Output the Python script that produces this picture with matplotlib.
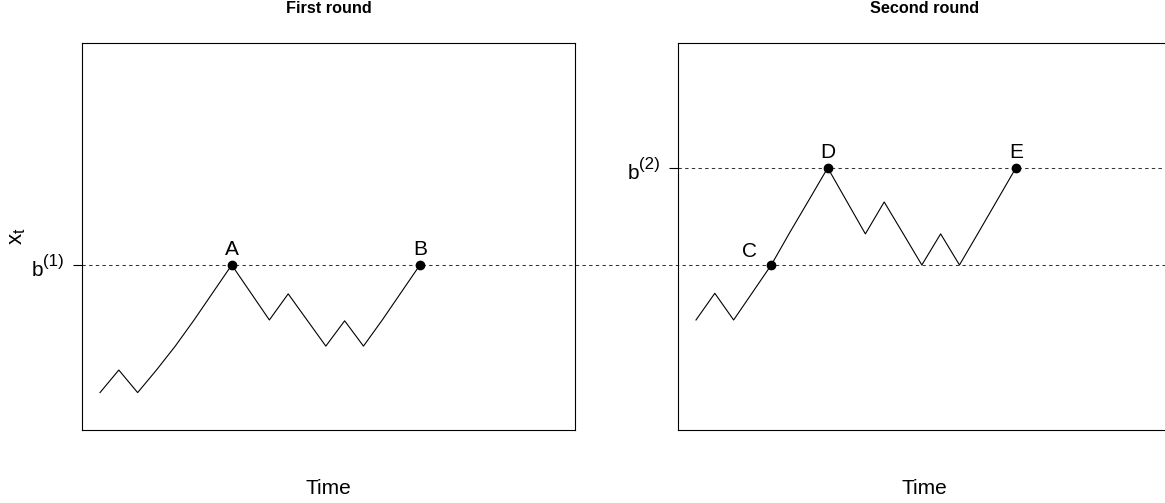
import matplotlib
matplotlib.use("Agg")
import matplotlib.pyplot as plt

plt.rcParams["font.family"] = ["Liberation Sans", "DejaVu Sans"]
plt.rcParams["mathtext.fontset"] = "custom"
plt.rcParams["mathtext.rm"] = "Liberation Sans"
plt.rcParams["mathtext.it"] = "Liberation Sans:italic"
plt.rcParams["mathtext.default"] = "regular"

# time steps shared by both rounds
t = list(range(18))

# first round path, barrier b(1)
x_first = [1.36, 2.18, 1.36, 2.18, 3.05, 4.0, 5.0, 6.0, 5.0, 4.0,
           4.95, 4.0, 3.05, 3.97, 3.05, 4.0, 5.0, 6.0]
b1 = 6.0

# second round path, barrier b(2)
x_second = [4.0, 4.97, 4.0, 5.0, 6.0, 7.2, 8.36, 9.53, 8.33, 7.13,
            8.29, 7.15, 6.0, 7.13, 6.0, 7.17, 8.35, 9.53]
b2 = 9.53

first_pts = {"A": 7, "B": 17}
second_pts = {"C": 4, "D": 7, "E": 17}

W, H = 1165, 503
px = 0.72  # points per pixel at dpi 100
fig = plt.figure(figsize=(W / 100, H / 100), dpi=100)

ax1 = fig.add_axes((82 / W, 73 / H, 493 / W, 387 / H))
ax2 = fig.add_axes((678 / W, 73 / H, 493 / W, 387 / H))

dash = (0, (3.2, 3.2))
lab_size = 15


def barrier_label(ax, y, idx):
    # b with a raised (i) like R plotmath, built from two texts
    sup = ax.annotate(f"({idx})", xy=(0, y), xycoords=("axes fraction", "data"),
                      xytext=(-18.5 * px, -1.5 * px), textcoords="offset points",
                      ha="right", va="baseline", fontsize=12.2)
    ax.annotate("b", xy=(0, 0), xycoords=sup, xytext=(0.3, -7 * px),
                textcoords="offset points", ha="right", va="baseline",
                fontsize=lab_size)


for ax in (ax1, ax2):
    ax.set_xlim(-0.956, 25.24)
    ax.set_ylim(0, 14.07)
    ax.set_xticks([])
    ax.patch.set_visible(False)
    for s in ax.spines.values():
        s.set_linewidth(0.8)
    ax.tick_params(axis="y", length=6.5, width=0.8, labelleft=False)
    ax.text(0.5, -64 / 387, "Time", transform=ax.transAxes, ha="center",
            va="baseline", fontsize=lab_size)

# first round
ax1.plot(t, x_first, color="black", lw=0.8)
ax1.axhline(b1, xmin=0, xmax=2.3, color="#333333", lw=0.75, ls=dash,
            clip_on=False, zorder=1)
ax1.set_yticks([b1])
barrier_label(ax1, b1, 1)
for name, i in first_pts.items():
    ax1.plot(t[i], x_first[i], "o", color="black", ms=6)
    ax1.annotate(name, (t[i], x_first[i]), xytext=(0, 7),
                 textcoords="offset points", ha="center", va="baseline",
                 fontsize=lab_size)
ax1.set_title("First round", fontsize=11.7, fontweight="bold", pad=21.4)

# second round
ax2.plot(t, x_second, color="black", lw=0.8)
ax2.axhline(b2, color="#333333", lw=0.75, ls=dash, zorder=1)
ax2.set_yticks([b2])
barrier_label(ax2, b2, 2)
for name, i in second_pts.items():
    ax2.plot(t[i], x_second[i], "o", color="black", ms=6)
    off = (-15.6, 5.5) if name == "C" else (0, 7)
    ax2.annotate(name, (t[i], x_second[i]), xytext=off,
                 textcoords="offset points", ha="center", va="baseline",
                 fontsize=lab_size)
ax2.set_title("Second round", fontsize=11.7, fontweight="bold", pad=21.4)

fig.text(17.5 / W, 1 - 236 / H, r"$x_t$", rotation=90, ha="center",
         va="center", fontsize=16)

fig.savefig("out.png", dpi=100)
